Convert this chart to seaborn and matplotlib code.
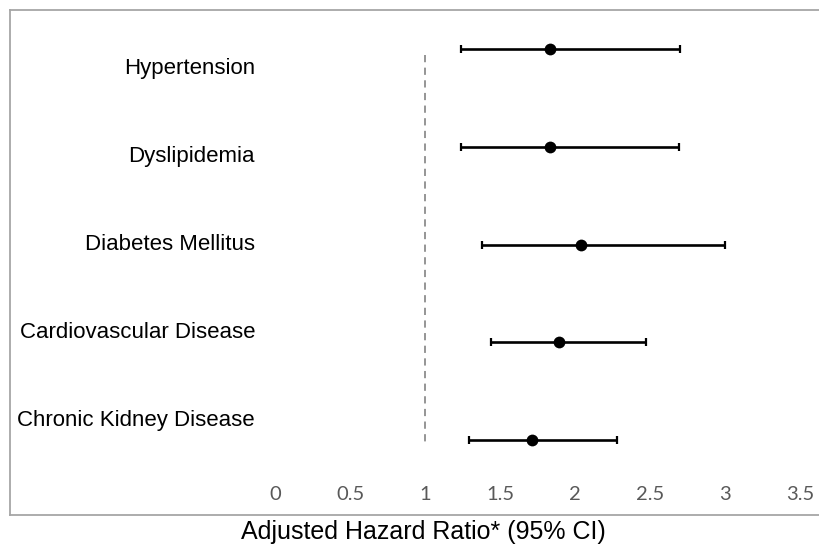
import pandas as pd
import matplotlib
matplotlib.use("Agg")
import matplotlib.pyplot as plt
import seaborn as sns

conditions = ["Hypertension", "Dyslipidemia", "Diabetes Mellitus",
              "Cardiovascular Disease", "Chronic Kidney Disease"]
hazard_ratio = [1.83, 1.83, 2.04, 1.89, 1.71]
ci_lower = [1.24, 1.24, 1.38, 1.44, 1.29]
ci_upper = [2.70, 2.69, 3.00, 2.47, 2.28]
x_ticks = [0, 0.5, 1, 1.5, 2, 2.5, 3, 3.5]
x_tick_labels = ["0", "0.5", "1", "1.5", "2", "2.5", "3", "3.5"]

df = pd.DataFrame({
    "Condition": conditions,
    "HR": hazard_ratio,
    "Lower": ci_lower,
    "Upper": ci_upper,
})
df["pos"] = range(len(df))

sns.set_style("white")
plt.rcParams["font.family"] = ["Liberation Sans", "DejaVu Sans"]

fig = plt.figure(figsize=(8.2, 5.48), dpi=100)
ax = fig.add_axes([10 / 820, 33 / 548, 810 / 820, 505 / 548])

# confidence intervals
ax.errorbar(df["HR"], df["pos"],
            xerr=[df["HR"] - df["Lower"], df["Upper"] - df["HR"]],
            fmt="none", ecolor="black", elinewidth=1.9, capsize=2.6,
            capthick=1.6, zorder=2)
sns.scatterplot(data=df, x="HR", y="pos", color="black", s=72,
                edgecolor="black", linewidth=0, zorder=3, ax=ax)

# reference line at HR = 1
ax.plot([1, 1], [0.06, 4.02], color="#8c8c8c", linestyle=(0, (4, 3)),
        linewidth=1.3, zorder=1)

ax.set_xlim(-1.767, 3.633)
ax.set_ylim(4.767, -0.399)

# category labels (offset from the points, as in the original)
for i, name in enumerate(df["Condition"]):
    ax.text(-0.133, 0.2 + 0.9 * i, name, ha="right", va="center",
            fontsize=16, color="black")

ax.set_xticks(x_ticks)
ax.set_xticklabels(x_tick_labels, fontfamily=["Lato", "DejaVu Sans"],
                   fontsize=14.5, color="#595959")
ax.tick_params(axis="x", length=0, pad=-21)
ax.set_yticks([])
ax.set_xlabel("")
ax.set_ylabel("")

for side in ["left", "top", "bottom"]:
    ax.spines[side].set_color("#a6a6a6")
    ax.spines[side].set_linewidth(1.3)
ax.spines["right"].set_visible(False)

fig.text(423 / 820, 1 - 532 / 548, "Adjusted Hazard Ratio* (95% CI)",
         ha="center", va="center", fontsize=18, color="black")

fig.savefig("out.png", dpi=100)
